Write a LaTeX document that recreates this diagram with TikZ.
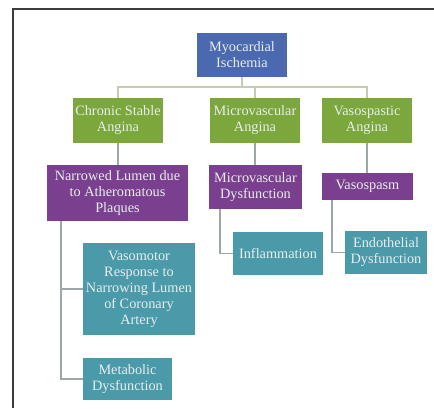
\documentclass[tikz,border=0pt]{standalone}
\usepackage{fontspec}
\setmainfont{Liberation Serif}
\usetikzlibrary{calc}
\definecolor{cblue}{HTML}{4B69AE}
\definecolor{cgreen}{HTML}{7BA73C}
\definecolor{cpurple}{HTML}{7A3F8E}
\definecolor{cteal}{HTML}{4A9AA9}
\definecolor{ctext}{HTML}{E8EEEE}
\definecolor{clineA}{HTML}{C5CDB0}
\definecolor{clineB}{HTML}{9DA7AA}
\definecolor{cframe}{HTML}{3C3C3C}
\tikzset{
  box/.style={rectangle, inner sep=0pt, align=center, text=ctext,
    font=\fontsize{14.3}{16}\selectfont},
  bluebox/.style={box, fill=cblue},
  greenbox/.style={box, fill=cgreen},
  purplebox/.style={box, fill=cpurple},
  tealbox/.style={box, fill=cteal},
  linkA/.style={draw=clineA, line width=1.6pt},
  linkB/.style={draw=clineB, line width=1.4pt},
}
\begin{document}
\begin{tikzpicture}[x=1pt,y=-1pt]
\useasboundingbox (0,0) rectangle (434,408);
\draw[cframe, line width=2pt] (13,408) -- (13,9) -- (434,9);
% nodes
\node[bluebox, minimum width=90pt, minimum height=44pt] (top) at (242,55) {Myocardial\\Ischemia};
\node[greenbox, minimum width=90pt, minimum height=45pt] (g1) at (118,120.5) {Chronic Stable\\Angina};
\node[greenbox, minimum width=90pt, minimum height=45pt] (g2) at (255,120.5) {Microvascular\\Angina};
\node[greenbox, minimum width=90pt, minimum height=45pt] (g3) at (367,120.5) {Vasospastic\\Angina};
\node[purplebox, minimum width=141pt, minimum height=56pt] (p1) at (117.5,193) {Narrowed Lumen due\\to Atheromatous\\Plaques};
\node[purplebox, minimum width=93pt, minimum height=44pt] (p2) at (255.5,187) {Microvascular\\Dysfunction};
\node[purplebox, minimum width=91pt, minimum height=27pt] (p3) at (367.5,186.5) {Vasospasm};
\node[tealbox, minimum width=112pt, minimum height=92pt] (t1) at (139,289) {Vasomotor\\Response to\\Narrowing Lumen\\of Coronary\\Artery};
\node[tealbox, minimum width=89pt, minimum height=42pt] (t2) at (127.5,379) {Metabolic\\Dysfunction};
\node[tealbox, minimum width=90pt, minimum height=43pt] (t3) at (278,253.5) {Inflammation};
\node[tealbox, minimum width=82pt, minimum height=43pt] (t4) at (386,252.5) {Endothelial\\Dysfunction};
% connectors
\coordinate (hub) at ($(top.south)+(0,10)$);
\draw[linkA] (top.south) -- (hub);
\draw[linkA] (hub) -| (g1.north);
\draw[linkA] (hub) -| (g2.north);
\draw[linkA] (hub) -| (g3.north);
\draw[linkB] (g1.south) -- (g1.south |- p1.north);
\draw[linkB] (g2.south) -- (g2.south |- p2.north);
\draw[linkB] (g3.south) -- (g3.south |- p3.north);
\coordinate (p1b) at ($(p1.south west)+(14,0)$);
\coordinate (p2b) at ($(p2.south west)+(11,0)$);
\coordinate (p3b) at ($(p3.south west)+(10,0)$);
\draw[linkB] (p1b) |- (t1.west);
\draw[linkB] (p1b) |- (t2.west);
\draw[linkB] (p2b) |- (t3.west);
\draw[linkB] (p3b) |- (t4.west);
\end{tikzpicture}
\end{document}
